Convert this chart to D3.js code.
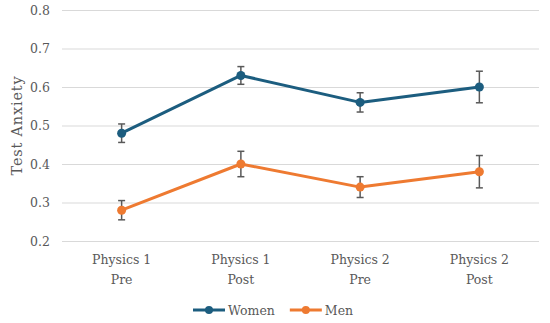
<!DOCTYPE html>
<html>
<head>
<meta charset="utf-8">
<script src="https://cdn.jsdelivr.net/npm/d3@7"></script>
<style>
  body { margin: 0; background: #fff; }
  svg text { font-family: "DejaVu Serif", serif; fill: #595959; }
</style>
</head>
<body>
<svg id="chart" width="550" height="323"></svg>
<script>
// data
var categories = [["Physics 1", "Pre"], ["Physics 1", "Post"], ["Physics 2", "Pre"], ["Physics 2", "Post"]];
var womenValues = [0.48, 0.63, 0.56, 0.60];
var womenErr = [0.024, 0.023, 0.025, 0.041];
var menValues = [0.28, 0.40, 0.34, 0.38];
var menErr = [0.025, 0.033, 0.027, 0.042];
var yTicks = [0.2, 0.3, 0.4, 0.5, 0.6, 0.7, 0.8];

var series = [
  {name: "Women", values: womenValues, err: womenErr, color: "#1c5d7f"},
  {name: "Men", values: menValues, err: menErr, color: "#ee7a31"}
];

var svg = d3.select("#chart"),
    plotLeft = 62, plotRight = 539, plotTop = 10, plotBottom = 241;

var xScale = d3.scaleBand()
  .domain(d3.range(categories.length))
  .range([plotLeft, plotRight]);

var yScale = d3.scaleLinear()
  .domain([0.2, 0.8])
  .range([plotBottom, plotTop]);

// gridlines + tick labels
var yAxis = svg.append("g")
  .attr("transform", "translate(" + plotLeft + ",0)")
  .call(d3.axisLeft(yScale).tickValues(yTicks).tickFormat(d3.format(".1f"))
        .tickSize(-(plotRight - plotLeft)).tickPadding(12));
yAxis.select(".domain").remove();
yAxis.selectAll(".tick line").attr("stroke", "#d9d9d9").attr("stroke-width", 1);
yAxis.selectAll(".tick text").style("font-size", "12.5px").attr("fill", "#595959");

// x labels (two lines each)
var xAxis = svg.append("g")
  .attr("transform", "translate(0," + plotBottom + ")")
  .call(d3.axisBottom(xScale).tickSize(0).tickFormat(""));
xAxis.select(".domain").remove();
xAxis.selectAll(".tick").each(function(d) {
  var t = d3.select(this).select("text")
    .attr("y", 0).attr("dy", null)
    .style("font-size", "12.5px");
  t.append("tspan").attr("x", 0).attr("y", 23).text(categories[d][0]);
  t.append("tspan").attr("x", 0).attr("y", 43).text(categories[d][1]);
});

// y title
svg.append("text")
  .attr("transform", "translate(22," + ((plotTop + plotBottom) / 2) + ")rotate(-90)")
  .attr("text-anchor", "middle")
  .style("font-size", "14.5px")
  .style("letter-spacing", "0.8px")
  .text("Test Anxiety");

var cx = function(i) { return xScale(i) + xScale.bandwidth() / 2; };

var line = d3.line()
  .x(function(d, i) { return cx(i); })
  .y(function(d) { return yScale(d); });

series.forEach(function(s) {
  var g = svg.append("g");

  g.append("path")
    .datum(s.values)
    .attr("d", line)
    .style("fill", "none")
    .style("stroke", s.color)
    .style("stroke-width", 3)
    .style("stroke-linejoin", "round");

  // error bars
  var eb = g.selectAll(".err")
    .data(s.values)
    .enter().append("g");
  eb.append("line")
    .attr("x1", function(d, i) { return cx(i); })
    .attr("x2", function(d, i) { return cx(i); })
    .attr("y1", function(d, i) { return yScale(d + s.err[i]); })
    .attr("y2", function(d, i) { return yScale(d - s.err[i]); });
  eb.append("line")
    .attr("x1", function(d, i) { return cx(i) - 3.5; })
    .attr("x2", function(d, i) { return cx(i) + 3.5; })
    .attr("y1", function(d, i) { return yScale(d + s.err[i]); })
    .attr("y2", function(d, i) { return yScale(d + s.err[i]); });
  eb.append("line")
    .attr("x1", function(d, i) { return cx(i) - 3.5; })
    .attr("x2", function(d, i) { return cx(i) + 3.5; })
    .attr("y1", function(d, i) { return yScale(d - s.err[i]); })
    .attr("y2", function(d, i) { return yScale(d - s.err[i]); });
  eb.selectAll("line")
    .style("stroke", "#595959")
    .style("stroke-width", 1.5);

  g.selectAll("circle")
    .data(s.values)
    .enter().append("circle")
    .attr("cx", function(d, i) { return cx(i); })
    .attr("cy", function(d) { return yScale(d); })
    .attr("r", 4.5)
    .style("fill", s.color);
});

// legend
var legend = svg.append("g").attr("transform", "translate(193,310)");
var lx = 0;
series.forEach(function(s) {
  var item = legend.append("g").attr("transform", "translate(" + lx + ",0)");
  item.append("line")
    .attr("x1", 0).attr("x2", 32).attr("y1", 0).attr("y2", 0)
    .style("stroke", s.color).style("stroke-width", 3);
  item.append("circle").attr("cx", 16).attr("cy", 0).attr("r", 4).style("fill", s.color);
  var t = item.append("text")
    .attr("x", 35).attr("y", 4.5)
    .style("font-size", "12.5px")
    .text(s.name);
  lx += 35 + t.node().getComputedTextLength() + 15;
});
</script>
</body>
</html>
